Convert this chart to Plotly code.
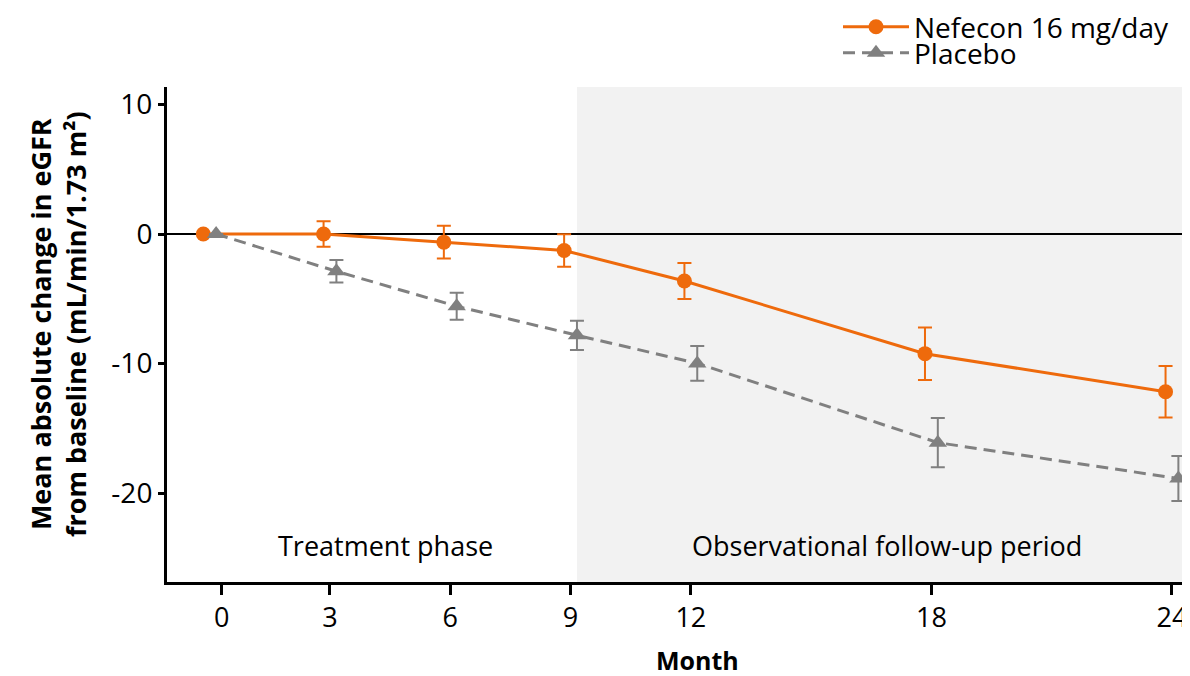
import plotly.graph_objects as go

# ---- data ----
months = [0, 3, 6, 9, 12, 18, 24]
nefecon_mean = [0.0, 0.0, -0.63, -1.27, -3.63, -9.24, -12.18]
nefecon_err = [None, 0.99, 1.27, 1.25, 1.39, 2.03, 1.98]
placebo_mean = [0.0, -2.88, -5.58, -7.82, -9.99, -16.11, -18.88]
placebo_err = [None, 0.87, 1.05, 1.13, 1.34, 1.90, 1.74]

x_tick_pos = [0.3, 3, 6, 9, 12, 18, 24]
x_tick_text = ["0", "3", "6", "9", "12", "18", "24"]
y_tick_vals = [10, 0, -10, -20]
y_tick_text = ["10", "0", "-10", "-20"]

dodge = 0.16
followup_start = 9.16
x_range = [-1.065, 24.4]
y_range = [-26.87, 11.35]

ORANGE = "#EE6A0C"
GRAY = "#808080"
FONT = "Open Sans"

fig = go.Figure()

fig.add_trace(go.Scatter(
    x=[m - dodge for m in months], y=nefecon_mean,
    mode="lines+markers", name="Nefecon 16 mg/day",
    line=dict(color=ORANGE, width=3),
    marker=dict(symbol="circle", size=15, color=ORANGE),
    error_y=dict(type="data", array=nefecon_err, visible=True,
                 color=ORANGE, thickness=2, width=7),
    legend="legend",
))
fig.add_trace(go.Scatter(
    x=[m + dodge for m in months], y=placebo_mean,
    mode="lines+markers", name="Placebo",
    line=dict(color=GRAY, width=3, dash="12px,7px"),
    marker=dict(symbol="triangle-up", size=16, color=GRAY),
    error_y=dict(type="data", array=placebo_err, visible=True,
                 color=GRAY, thickness=2, width=7),
    legend="legend2",
))

# shaded observational follow-up period
fig.add_shape(type="rect", xref="x", yref="paper",
              x0=followup_start, x1=x_range[1], y0=0, y1=1,
              fillcolor="#F2F2F2", line_width=0, layer="below")

# page body has an 8px margin, so the figure is drawn 8px right/down
OFF = 8
W, H = 1190 - OFF, 676 - OFF
L, R, T, B = 167 - OFF, 2, 87 - OFF, 94
PW, PH = W - L - R, H - T - B


def px2paper_x(px):
    return (px - OFF - L) / PW


def px2paper_y(py):
    return (H - B - (py - OFF)) / PH


def add_text(text, px, py, size, angle=0):
    fig.add_annotation(text=text, x=px2paper_x(px), y=px2paper_y(py),
                       xref="paper", yref="paper", showarrow=False,
                       xanchor="center", yanchor="middle", textangle=angle,
                       font=dict(size=size, color="black", family=FONT))


add_text("Treatment phase", 385, 545, 27)
add_text("Observational follow-up period", 887, 545, 27)
add_text("<b>Month</b>", 697, 660, 25)
add_text("<b>Mean absolute change in eGFR<br>from baseline (mL/min/1.73 m²)</b>", 58, 324, 27, -90)

fig.update_layout(
    width=W, height=H,
    margin=dict(l=L, r=R, t=T, b=B, pad=0, autoexpand=False),
    paper_bgcolor="white", plot_bgcolor="white",
    font=dict(family=FONT, size=27, color="black"),
    showlegend=True,
    legend=dict(x=px2paper_x(838), y=px2paper_y(27), xanchor="left", yanchor="middle",
                bgcolor="rgba(0,0,0,0)", font=dict(size=28), itemwidth=66),
    legend2=dict(x=px2paper_x(838), y=px2paper_y(53), xanchor="left", yanchor="middle",
                 bgcolor="rgba(0,0,0,0)", font=dict(size=28), itemwidth=66),
    xaxis=dict(range=x_range, tickvals=x_tick_pos, ticktext=x_tick_text,
               showgrid=False, zeroline=False, showline=True, linecolor="black",
               linewidth=3, ticks="outside", ticklen=10, tickwidth=3, tickcolor="black",
               tickfont=dict(size=27)),
    yaxis=dict(range=y_range, tickvals=y_tick_vals, ticktext=y_tick_text,
               showgrid=False, zeroline=True, zerolinecolor="black", zerolinewidth=1.5,
               showline=True, linecolor="black", linewidth=3,
               ticks="outside", ticklen=6, tickwidth=3, tickcolor="black",
               tickfont=dict(size=28)),
)

fig.write_html("out.html")
